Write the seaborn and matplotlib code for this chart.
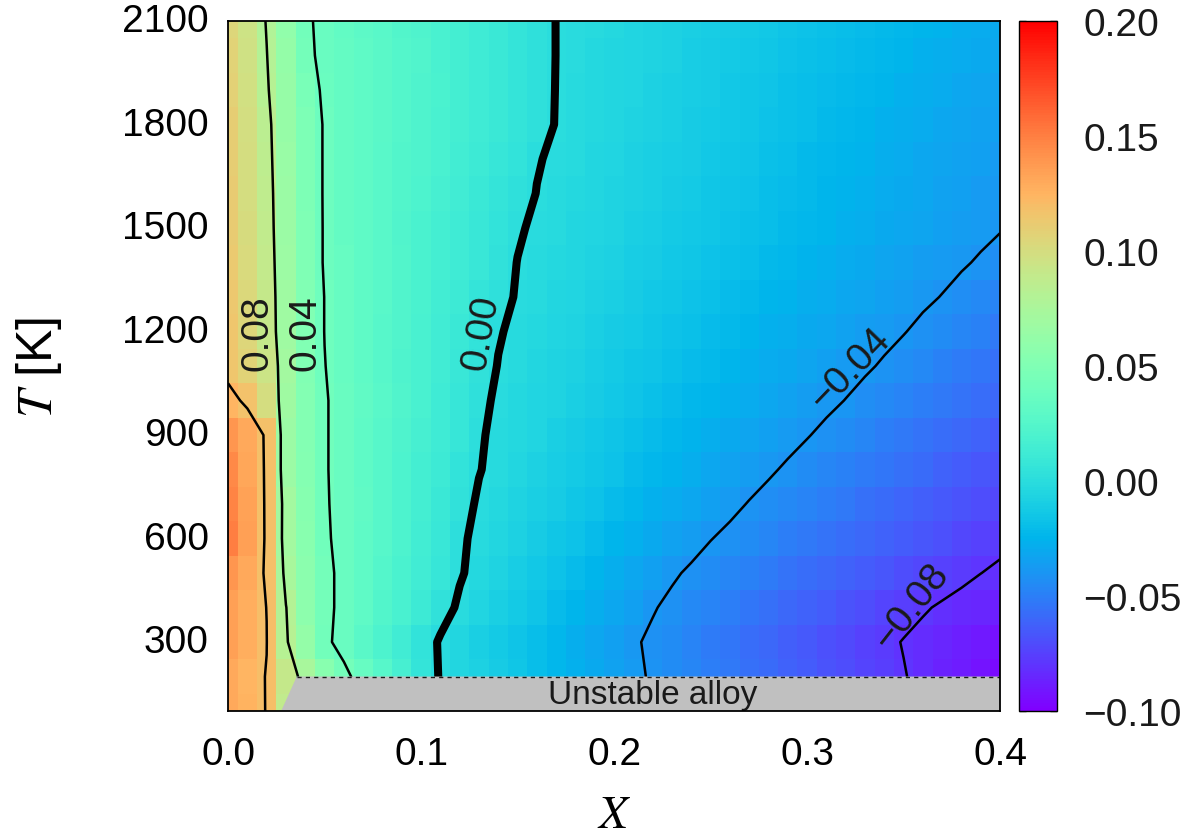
import numpy as np
import pandas as pd
import matplotlib
matplotlib.use("Agg")
import matplotlib.pyplot as plt
from matplotlib.ticker import FuncFormatter
import seaborn as sns

# ---------------- data ----------------
x_values = [0.00, 0.01, 0.02, 0.03, 0.04, 0.05, 0.06, 0.07, 0.08, 0.09,
            0.10, 0.11, 0.12, 0.13, 0.14, 0.15, 0.16, 0.17, 0.18, 0.19,
            0.20, 0.21, 0.22, 0.23, 0.24, 0.25, 0.26, 0.27, 0.28, 0.29,
            0.30, 0.31, 0.32, 0.33, 0.34, 0.35, 0.36, 0.37, 0.38, 0.39, 0.40]
T_values = [100, 200, 300, 400, 500, 600, 700, 800, 900, 1000, 1100,
            1200, 1300, 1400, 1500, 1600, 1700, 1800, 1900, 2000, 2100]

# field values in units of 1e-3, one row per temperature (T ascending)
z_milli = [
    [130, 126, 119.5, 88, 72, 55, 43, 35, 25.8, 16.6, 7.4, -0.7, -4.4, -8.1, -11.9, -15.6, -19.3, -23, -26.7, -30.4, -34.1, -37.8, -41.2, -44.1, -47.1, -50, -52.9, -55.9, -58.8, -61.8, -64.7, -67.6, -70.6, -73.5, -76.5, -79.4, -82.7, -86, -89.3, -92.7, -96],
    [130, 125, 119.5, 90, 74, 55, 43, 35, 25.8, 16.6, 6.5, -0.8, -4.4, -8.1, -11.9, -15.6, -19.3, -23, -26.7, -30.4, -34.1, -37.8, -41.2, -44.1, -47.1, -50, -52.9, -55.9, -58.8, -61.8, -64.7, -67.6, -70.6, -73.5, -76.5, -79.4, -82.7, -86, -89.3, -92.7, -96],
    [135, 128, 120.3, 82, 62, 42.5, 36, 28.3, 20.7, 13, 5.4, -1.1, -4.9, -8.6, -12.4, -16.2, -19.9, -23.7, -27.4, -31.2, -34.9, -38.7, -41.9, -44.9, -47.9, -50.9, -53.8, -56.8, -59.8, -62.8, -65.7, -68.7, -71.7, -74.6, -77.6, -80.5, -83, -85.5, -88, -90.5, -93],
    [135, 128, 119.8, 80.5, 58, 43, 37, 30.4, 23.8, 17.2, 10.6, 4, -1.5, -5.3, -9.1, -12.8, -16.6, -20.4, -24.2, -27.9, -31.7, -35.5, -39.2, -42.3, -45.1, -47.9, -50.7, -53.5, -56.3, -59.2, -62, -64.8, -67.6, -70.4, -73.2, -76.1, -78.9, -81.3, -83.6, -85.8, -88],
    [140, 130, 118, 74, 56, 43, 37, 31, 25.1, 19.1, 13.1, 7.2, 0.9, -2.9, -6.4, -10, -13.6, -17.1, -20.7, -24.3, -27.9, -31.4, -35, -38.6, -41.5, -44.1, -46.6, -49.2, -51.7, -54.3, -56.9, -59.4, -62, -64.5, -67.1, -69.6, -72.2, -74.8, -77.3, -79.9, -82],
    [150, 135, 118, 70, 55, 41.5, 37, 31.2, 25.4, 19.7, 13.9, 8.1, 1.6, -2.3, -5, -8.2, -11.3, -14.5, -17.6, -20.8, -23.9, -27.1, -30.2, -33.4, -36.5, -39.7, -42.2, -44.7, -47.2, -49.7, -52.2, -54.6, -57.1, -59.6, -62.1, -64.6, -67.1, -69.5, -72, -74.5, -77],
    [148, 134, 118, 70.5, 54, 41, 37, 31.5, 26, 20.5, 15, 9.5, 3.5, -1.2, -3.6, -6.5, -9.3, -12.1, -15, -17.8, -20.7, -23.5, -26.4, -29.2, -32, -34.9, -37.7, -40.5, -43, -45.5, -48, -50.5, -53, -55.5, -58, -60.5, -63, -65.5, -68, -70.5, -73],
    [145, 132, 118, 66, 53, 41, 36, 30.9, 25.8, 20.7, 15.6, 10.5, 5.4, 0.4, -2.4, -5, -7.6, -10.2, -12.8, -15.3, -17.9, -20.5, -23.1, -25.7, -28.3, -30.9, -33.5, -36.1, -38.7, -41.3, -43.8, -46.3, -48.8, -51.3, -53.9, -56.4, -58.9, -61.4, -63.9, -66.5, -69],
    [140, 130, 118, 66, 52, 41, 36, 31.1, 26.3, 21.4, 16.5, 11.7, 6.8, 1.0, -2.0, -3.8, -6.2, -8.6, -11, -13.3, -15.7, -18.1, -20.5, -22.9, -25.2, -27.6, -30, -32.4, -34.8, -37.1, -39.5, -42, -44.6, -47.1, -49.7, -52.2, -54.8, -57.3, -59.9, -62.4, -65],
    [125, 117, 100, 68, 52, 41, 36, 31.3, 26.6, 21.9, 17.2, 12.5, 7.8, 2.2, -1.4, -3, -5.2, -7.3, -9.5, -11.7, -13.9, -16.1, -18.3, -20.5, -22.7, -24.9, -27.1, -29.3, -31.5, -33.6, -35.8, -38, -40.2, -42.7, -45.2, -47.7, -50.1, -52.6, -55.1, -57.5, -60],
    [115, 107, 94, 70, 51, 40.3, 35, 30.5, 26, 21.6, 17.2, 12.7, 8.2, 3.8, -0.3, -2.3, -4.4, -6.4, -8.4, -10.4, -12.5, -14.5, -16.5, -18.5, -20.6, -22.6, -24.6, -26.6, -28.7, -30.7, -32.7, -34.7, -36.8, -38.8, -41, -43.5, -46, -48.5, -51, -53.5, -56],
    [115, 104, 91, 68, 50, 39.8, 35, 30.7, 26.4, 22, 17.8, 13.5, 9.2, 4.9, 0.6, -1.6, -3.5, -5.4, -7.3, -9.2, -11.1, -13, -14.9, -16.8, -18.7, -20.6, -22.5, -24.4, -26.3, -28.2, -30.1, -32, -33.9, -35.8, -37.7, -39.6, -42, -44.5, -47, -49.5, -52],
    [114, 103, 90, 68, 50, 39.8, 35, 31, 27, 23, 18.5, 14.5, 10.5, 6.5, 2.5, -0.7, -2.5, -4.3, -6, -8, -9.7, -11.5, -13.3, -15, -17, -18.7, -20.5, -22.2, -24, -25.8, -27.6, -29.4, -31.2, -33, -34.8, -36.6, -38.4, -40.3, -42.8, -45.4, -48],
    [113, 102, 89, 67, 49, 39, 35, 31, 27, 23.5, 19.5, 15.5, 11.5, 8, 4, -0.2, -1.7, -3.4, -5, -6.8, -8.5, -10.2, -12, -13.6, -15.3, -17, -18.6, -20.3, -22, -23.7, -25.4, -27, -28.8, -30.5, -32.2, -34, -35.6, -37.3, -39, -41, -43.5],
    [112, 101, 88, 66, 49, 39, 34, 30.5, 27, 23, 19.5, 16, 12.5, 8.5, 5, 1.0, -1.5, -2.6, -4.2, -5.8, -7.4, -9, -10.6, -12.2, -13.8, -15.4, -17, -18.6, -20.2, -21.8, -23.4, -25, -26.6, -28.2, -29.8, -31.4, -33, -34.6, -36.2, -37.8, -39.4],
    [111, 100, 87, 66, 48, 39, 34, 30.5, 27, 23.5, 20.5, 17, 13.5, 10, 6.5, 3, -0.2, -1.8, -3.4, -5, -6.6, -8, -9.7, -11.3, -13, -14.5, -16, -17.7, -19.3, -21, -22.5, -24, -25.7, -27.3, -29, -30.5, -32, -33.7, -35.3, -37, -38.5],
    [110, 100, 86, 65, 48, 39, 34, 30.5, 27.5, 24, 21, 17.5, 14, 11, 7.5, 4.5, 0.5, -1.2, -2.5, -4, -6, -7.5, -9, -10.5, -12, -13.5, -15, -16.5, -18, -20, -21.5, -23, -24.5, -26, -27.5, -29, -31, -32.5, -34, -35.5, -37],
    [110, 99, 85, 64, 48, 39, 34, 31, 28, 24.5, 21.5, 18, 15, 12, 9, 5.5, 2.5, -0.3, -2, -3.5, -5, -6.5, -8, -9.5, -11, -12.5, -14, -15.5, -17, -18.5, -20, -21.5, -23, -25, -26.5, -28, -29.5, -31, -32.5, -34, -35.5],
    [108, 97, 82, 64, 46, 38, 34, 31, 28, 24.5, 21.5, 18.5, 15, 12, 9, 6, 3, -0.2, -1.6, -3, -4.5, -6, -7.5, -9, -10.5, -12, -13.5, -15, -16.5, -18, -19.5, -21, -22, -23.5, -25, -26.5, -28, -29.5, -31, -32.5, -34],
    [107, 96, 80.5, 62, 43, 37, 34, 31, 28, 25, 22, 18, 15, 12, 9, 6, 3, -0.1, -1.5, -3, -4, -5.5, -7, -8.5, -10, -11, -12.5, -14, -15, -17, -18, -19.5, -21, -22, -23.5, -25, -26.5, -28, -29, -30.5, -32],
    [105, 95, 79, 60, 42, 37, 33, 30, 27, 24, 21, 18, 15, 12, 9, 6, 3, -0.1, -1.3, -2.6, -3.9, -5.2, -6.5, -7.8, -9.1, -10.4, -11.7, -13, -14.3, -15.7, -17, -18.3, -19.6, -20.9, -22.2, -23.5, -24.8, -26.1, -27.4, -28.7, -30],
]

contour_levels = [-0.08, -0.04, 0.00, 0.04, 0.08, 0.12]
contour_widths = [1.8, 1.8, 5.8, 1.8, 1.8, 1.8]

# contour label texts and where they sit (x, T, rotation)
label_texts = ["0.08", "0.04", "0.00", "\u22120.04", "\u22120.08"]
label_x = [0.0155, 0.0399, 0.1311, 0.3223, 0.3539]
label_T = [1198, 1198, 1198, 1091, 404]
label_rot = [90, 90, 80, 46, 52]

# unstable-alloy region boundary
unstable_x = [0.0275, 0.0356, 0.40, 0.40]
unstable_T = [100, 200, 200, 100]

x_ticks = [0.0, 0.1, 0.2, 0.3, 0.4]
x_ticklabels = ["0.0", "0.1", "0.2", "0.3", "0.4"]
T_ticks = [300, 600, 900, 1200, 1500, 1800, 2100]
cbar_ticks = [-0.10, -0.05, 0.00, 0.05, 0.10, 0.15, 0.20]

# ---------------- style ----------------
sns.set_theme(style="white")
plt.rcParams["font.family"] = ["Liberation Sans", "DejaVu Sans"]
plt.rcParams["mathtext.fontset"] = "stix"
for key in ["text.color", "axes.labelcolor", "xtick.color", "ytick.color"]:
    plt.rcParams[key] = "black"

Z = np.array(z_milli, dtype=float) / 1000.0
df = pd.DataFrame(Z, index=T_values, columns=x_values)

# heatmap index coordinates (cell centres at i + 0.5)
dx = x_values[1] - x_values[0]
dT = T_values[1] - T_values[0]
def xi(v):
    return (np.asarray(v, dtype=float) - x_values[0]) / dx + 0.5
def yi(v):
    return (np.asarray(v, dtype=float) - T_values[0]) / dT + 0.5

fig = plt.figure(figsize=(11.94, 8.37), dpi=100)
ax = fig.add_axes([0.191, 0.1493, 0.6466, 0.8244])
cax = fig.add_axes([0.8534, 0.1493, 0.0318, 0.8244])

sns.heatmap(df, ax=ax, cmap="rainbow", vmin=-0.10, vmax=0.20,
            cbar_ax=cax, cbar_kws={"ticks": cbar_ticks})

ax.set_xlim(xi(x_values[0]), xi(x_values[-1]))
ax.set_ylim(yi(T_values[0]), yi(T_values[-1]))

# contour lines (all solid)
ax.contour(xi(x_values), yi(T_values), Z, levels=contour_levels,
           colors="black", linewidths=contour_widths, linestyles="solid",
           negative_linestyles="solid", zorder=2)

for txt, lx, lT, rot in zip(label_texts, label_x, label_T, label_rot):
    ax.text(xi(lx), yi(lT), txt, rotation=rot, ha="center", va="center",
            fontsize=28, color="k", zorder=5, rotation_mode="anchor")

# unstable region
ax.fill(xi(unstable_x), yi(unstable_T), color="#c0c0c0", lw=0, zorder=3)
ax.plot(xi(unstable_x[1:3]), yi(unstable_T[1:3]), color="k", lw=1.0,
        ls=(0, (3, 3)), zorder=4)
ax.text(xi(0.22), yi(149), "Unstable alloy", ha="center", va="center",
        fontsize=24, color="k", zorder=5)

# axes styling
ax.set_xticks(xi(x_ticks))
ax.set_xticklabels(x_ticklabels, rotation=0)
ax.set_yticks(yi(T_ticks))
ax.set_yticklabels([str(t) for t in T_ticks], rotation=0)
ax.tick_params(axis="x", length=0, labelsize=28, pad=18)
ax.tick_params(axis="y", length=0, labelsize=28, pad=14)
ax.set_xlabel(r"$X$", fontsize=34, labelpad=15)
ax.set_ylabel(r"$T$ [K]", fontsize=36, labelpad=42)
for s in ax.spines.values():
    s.set_visible(True)
    s.set_color("black")
    s.set_linewidth(1.3)
    s.set_zorder(6)

# colorbar styling
cax.tick_params(direction="in", length=5, width=1, left=True, right=True,
                labelsize=28, pad=19, colors="k")
cax.yaxis.set_major_formatter(FuncFormatter(
    lambda v, p: f"{v:.2f}".replace("-", "\u2212") if abs(v) > 1e-9 else "0.00"))
cbar = ax.collections[0].colorbar
cbar.outline.set_visible(True)
cbar.outline.set_edgecolor("black")
cbar.outline.set_linewidth(1.0)

fig.savefig("out.png", dpi=100)
